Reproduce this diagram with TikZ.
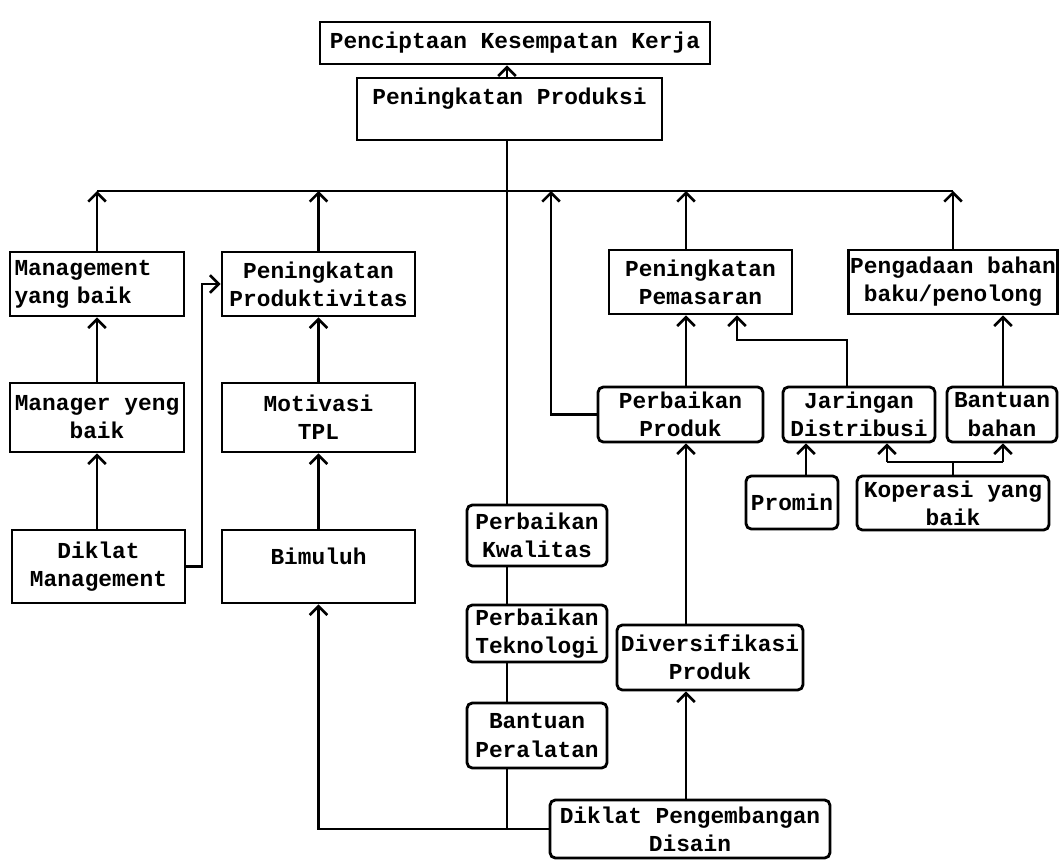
\documentclass[tikz,border=0pt]{standalone}
\usepackage{fontspec}
\newfontfamily\twfont{Liberation Mono}
\usetikzlibrary{arrows.meta}
\tikzset{
  blk/.style={draw,line width=1.6pt,inner sep=1pt,align=center,font=\twfont\bfseries\fontsize{13}{16}\selectfont},
  rblk/.style={blk,rounded corners=3pt},
  ln/.style={line width=1.5pt},
  arr/.style={ln,-{Straight Barb[length=5pt,width=10pt]}},
  every picture/.style={x=0.02cm,y=-0.02cm}
}
\begin{document}
\begin{tikzpicture}
  \useasboundingbox (0,0) rectangle (1059,865);
  \node[blk,minimum width=7.8cm,minimum height=0.84cm] (cipta) at (515,43) {Penciptaan Kesempatan Kerja};
  \node[blk,minimum width=6.1cm,minimum height=1.24cm] (prod) at (509.5,109) {Peningkatan Produksi\\[-2pt]\mbox{}};
  \node[blk,minimum width=3.48cm,minimum height=1.28cm,align=left,text width=3.3cm] (mgmt) at (97,284) {Management\\\mbox{yang baik}};
  \node[blk,minimum width=3.86cm,minimum height=1.28cm] (prodv) at (318.5,284) {Peningkatan\\Produktivitas};
  \node[blk,minimum width=3.48cm,minimum height=1.38cm] (mgr) at (97,417.5) {Manager yeng\\baik};
  \node[blk,minimum width=3.86cm,minimum height=1.38cm] (mot) at (318.5,417.5) {Motivasi\\TPL};
  \node[blk,minimum width=3.46cm,minimum height=1.46cm] (dklm) at (98.5,566.5) {Diklat\\Management};
  \node[blk,minimum width=3.86cm,minimum height=1.46cm] (bim) at (318.5,566.5) {Bimuluh\\[-4pt]\mbox{}};
  \node[blk,minimum width=3.66cm,minimum height=1.28cm] (pem) at (700.5,282) {Peningkatan\\Pemasaran};
  \node[blk,minimum width=4.16cm,minimum height=1.28cm] (pgd) at (953,282) {Pengadaan bahan\\baku/penolong};
  \node[rblk,minimum width=3.3cm,minimum height=1.1cm] (prbk) at (680.5,414.5) {Perbaikan\\Produk};
  \node[rblk,minimum width=3.04cm,minimum height=1.1cm] (jar) at (859,414.5) {Jaringan\\Distribusi};
  \node[rblk,minimum width=2.2cm,minimum height=1.1cm] (bbh) at (1002,414.5) {Bantuan\\bahan};
  \node[rblk,minimum width=1.84cm,minimum height=1.06cm] (prm) at (792,502.5) {Promin};
  \node[rblk,minimum width=3.84cm,minimum height=1.08cm] (kop) at (953,503) {Koperasi yang\\baik};
  \node[rblk,minimum width=2.8cm,minimum height=1.22cm] (kwal) at (537,535.5) {Perbaikan\\Kwalitas};
  \node[rblk,minimum width=2.8cm,minimum height=1.14cm] (tek) at (537,633.5) {Perbaikan\\Teknologi};
  \node[rblk,minimum width=2.8cm,minimum height=1.3cm] (alat) at (537,735.5) {Bantuan\\Peralatan};
  \node[rblk,minimum width=3.72cm,minimum height=1.3cm] (div) at (710,657.5) {Diversifikasi\\Produk};
  \node[rblk,minimum width=5.6cm,minimum height=1.16cm] (dsn) at (690,829) {Diklat Pengembangan\\Disain};
  \coordinate (trunk) at (507,0); \coordinate (colpem) at (686,0); \coordinate (dk) at (202,0);
  \coordinate (barL) at (97,191); \coordinate (barR) at (953,191); \coordinate (pp) at (551,191);
  \coordinate (jb) at (847,340); \coordinate (pb) at (737,340);
  \coordinate (kl) at (887,462); \coordinate (kr) at (1003,462);
  \draw[arr] (prod.north -| trunk) -- (cipta.south -| trunk);
  \draw[ln] (prod.south -| trunk) -- (kwal.north -| trunk);
  \draw[ln] (barL) -- (barR);
  \draw[arr] (mgmt.north) -- (mgmt.north |- barL); \draw[arr] (prodv.north) -- (prodv.north |- barL);
  \draw[arr] (pem.north -| colpem) -- (colpem |- barL); \draw[arr] (pgd.north) -- (pgd.north |- barR);
  \draw[arr] (prbk.west) -| (pp);
  \draw[arr] (mgr.north) -- (mgmt.south); \draw[arr] (mgr.south |- dklm.north) -- (mgr.south);
  \draw[arr] (dklm.east) -- (dklm.east -| dk) -- (dk |- prodv.west) -- (prodv.west);
  \draw[arr] (mot.north) -- (prodv.south); \draw[arr] (bim.north) -- (mot.south);
  \draw[arr] (prbk.north -| colpem) -- (pem.south -| colpem);
  \draw[arr] (jar.north -| jb) -- (jb) -- (pb) -- (pem.south -| pb);
  \draw[arr] (bbh.north -| kr) -- (pgd.south -| kr);
  \draw[arr] ([xshift=8pt]prm.north) -- ([xshift=8pt]prm.north |- jar.south);
  \draw[ln] (kop.north) -- (kop.north |- kl);
  \draw[ln] (kl) -- (kr);
  \draw[arr] (kl) -- (kl |- jar.south); \draw[arr] (kr) -- (kr |- bbh.south);
  \draw[ln] (kwal.south -| trunk) -- (tek.north -| trunk); \draw[ln] (tek.south -| trunk) -- (alat.north -| trunk);
  \draw[ln] (alat.south -| trunk) -- (trunk |- dsn.west);
  \draw[arr] (dsn.west) -| (bim.south);
  \draw[arr] (dsn.north -| colpem) -- (div.south -| colpem);
  \draw[arr] (div.north -| colpem) -- (prbk.south -| colpem);
\end{tikzpicture}
\end{document}
